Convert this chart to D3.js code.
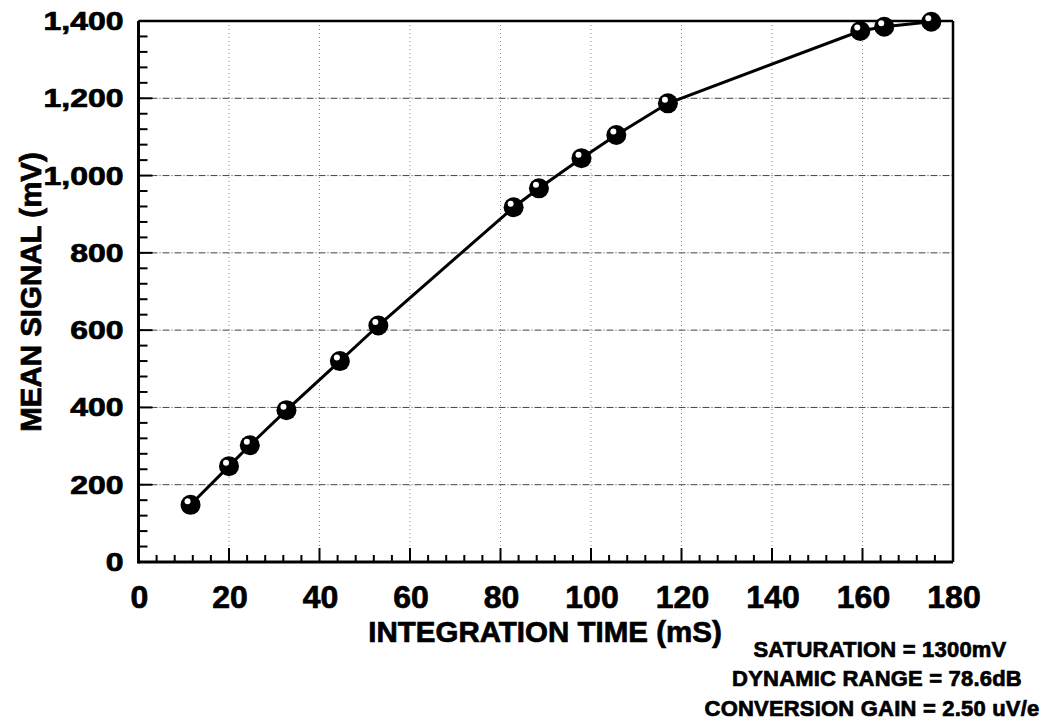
<!DOCTYPE html>
<meta charset="utf-8">
<script src="https://d3js.org/d3.v7.min.js"></script>
<style>
  body { margin: 0; background: #fff; }
  text { font-family: "Liberation Sans", Arial, sans-serif; font-weight: bold; fill: #000;
         stroke: #000; stroke-width: 0.7px; }
</style>
<div id="chart"></div>
<script>
  // data
  const timeMs = [11.5, 20.0, 24.6, 32.7, 44.5, 53.0, 82.9, 88.5, 97.9, 105.6, 117.0, 159.5, 164.8, 175.2];
  const signalMv = [148, 248, 302, 393, 520, 612, 918, 967, 1045, 1105, 1187, 1374, 1385, 1398];
  const xTicks = [0, 20, 40, 60, 80, 100, 120, 140, 160, 180];
  const yTicks = [0, 200, 400, 600, 800, 1000, 1200, 1400];
  const notes = ["SATURATION = 1300mV", "DYNAMIC RANGE = 78.6dB", "CONVERSION GAIN = 2.50 uV/e"];

  const W = 1041, H = 724;
  const svg = d3.select("#chart").append("svg")
    .attr("width", W).attr("height", H);

  const x = d3.scaleLinear().domain([0, 180]).range([138.5, 953]);
  const y = d3.scaleLinear().domain([0, 1400]).range([562, 21]);

  // grid
  svg.append("g").selectAll("line")
    .data(yTicks.filter(d => d > 0 && d < 1400))
    .join("line")
      .attr("x1", x(0)).attr("x2", x(180))
      .attr("y1", d => y(d)).attr("y2", d => y(d))
      .attr("stroke", "#444").attr("stroke-width", 1)
      .attr("stroke-dasharray", "7,2,1,2");
  svg.append("g").selectAll("line")
    .data(xTicks.filter(d => d > 0 && d < 180))
    .join("line")
      .attr("x1", d => x(d)).attr("x2", d => x(d))
      .attr("y1", y(0)).attr("y2", y(1400))
      .attr("stroke", "#888").attr("stroke-width", 1)
      .attr("stroke-dasharray", "1,3");

  // minor ticks (inside)
  const minorX = d3.range(0, 181, 4);
  svg.append("g").selectAll("line")
    .data(minorX)
    .join("line")
      .attr("x1", d => x(d)).attr("x2", d => x(d))
      .attr("y1", y(0)).attr("y2", d => y(0) - (d % 20 === 0 ? 14 : 7))
      .attr("stroke", "#000").attr("stroke-width", 2);
  const minorY = d3.range(0, 1401, 40);
  svg.append("g").selectAll("line")
    .data(minorY)
    .join("line")
      .attr("y1", d => y(d)).attr("y2", d => y(d))
      .attr("x1", x(0)).attr("x2", d => x(0) + (d % 200 === 0 ? 14 : 9))
      .attr("stroke", "#000").attr("stroke-width", 2);

  // frame
  svg.append("line").attr("x1", x(0)).attr("x2", x(0)).attr("y1", y(0) + 1.5).attr("y2", y(1400))
    .attr("stroke", "#000").attr("stroke-width", 3);
  svg.append("line").attr("x1", x(0)).attr("x2", x(180)).attr("y1", y(0)).attr("y2", y(0))
    .attr("stroke", "#000").attr("stroke-width", 3);
  svg.append("line").attr("x1", x(0)).attr("x2", x(180)).attr("y1", y(1400)).attr("y2", y(1400))
    .attr("stroke", "#000").attr("stroke-width", 2.5);
  svg.append("line").attr("x1", x(180)).attr("x2", x(180)).attr("y1", y(0)).attr("y2", y(1400))
    .attr("stroke", "#000").attr("stroke-width", 2.5);

  // tick labels
  const fmt = d3.format(",");
  svg.append("g").selectAll("text")
    .data(yTicks)
    .join("text")
      .attr("transform", d => `translate(${x(0) - 15},${y(d) + 9}) scale(1.28,1)`)
      .attr("text-anchor", "end")
      .attr("font-size", 25)
      .text(d => fmt(d));
  svg.append("g").selectAll("text")
    .data(xTicks)
    .join("text")
      .attr("x", d => x(d) + 1).attr("y", 608)
      .attr("text-anchor", "middle")
      .attr("font-size", 32)
      .text(d => d);

  // axis titles
  svg.append("text")
    .attr("transform", "translate(41,292) rotate(-90)")
    .attr("text-anchor", "middle")
    .attr("font-size", 29.5)
    .text("MEAN SIGNAL (mV)");
  svg.append("text")
    .attr("x", 545).attr("y", 642)
    .attr("text-anchor", "middle")
    .attr("font-size", 29.5)
    .text("INTEGRATION TIME (mS)");

  // line + markers
  const pts = timeMs.map((t, i) => [t, signalMv[i]]);
  svg.append("path")
    .datum(pts)
    .attr("fill", "none")
    .attr("stroke", "#000")
    .attr("stroke-width", 3)
    .attr("d", d3.line().x(d => x(d[0])).y(d => y(d[1])));
  const mk = svg.append("g").selectAll("g")
    .data(pts)
    .join("g")
      .attr("transform", d => `translate(${x(d[0])},${y(d[1])})`);
  mk.append("circle").attr("r", 10).attr("fill", "#000");
  mk.append("circle").attr("r", 3).attr("cx", -3).attr("cy", -3.5).attr("fill", "#fff");

  // notes
  svg.append("g").selectAll("text")
    .data(notes)
    .join("text")
      .attr("x", (d, i) => [880, 877, 872][i])
      .attr("y", (d, i) => [657, 686, 716][i])
      .attr("text-anchor", "middle")
      .attr("font-size", 22)
      .attr("letter-spacing", "0.2px")
      .text(d => d);
</script>
